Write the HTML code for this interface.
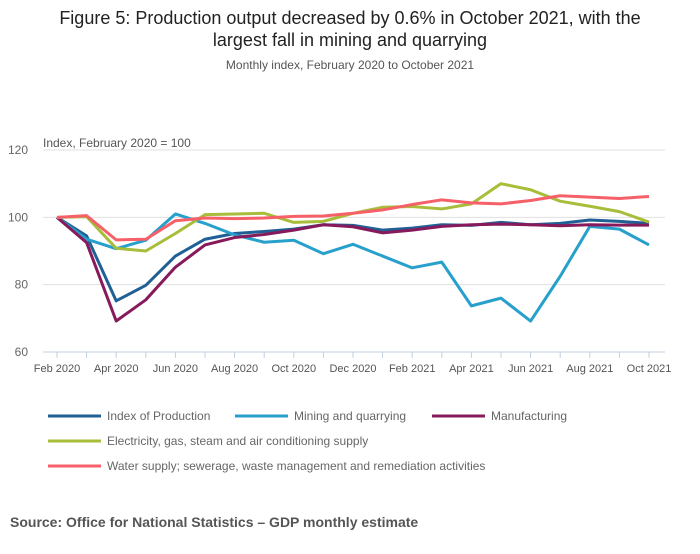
<!DOCTYPE html>
<html><head><meta charset="utf-8"><style>
body{margin:0;background:#fff;font-family:"Liberation Sans",sans-serif;}
svg text{font-family:"Liberation Sans",sans-serif;}
</style></head><body>
<svg width="700" height="549" viewBox="0 0 700 549" xmlns="http://www.w3.org/2000/svg">
<text x="350" y="24" font-size="18" fill="#222" text-anchor="middle">Figure 5: Production output decreased by 0.6% in October 2021, with the</text>
<text x="350" y="46" font-size="18" fill="#222" text-anchor="middle">largest fall in mining and quarrying</text>
<text x="350" y="69" font-size="12" fill="#555" text-anchor="middle">Monthly index, February 2020 to October 2021</text>
<text x="43" y="147" font-size="12" fill="#555">Index, February 2020 = 100</text>
<g id="grid"></g><g id="xaxis"></g><g id="lines"></g>
<g id="legend"></g>
<text x="10" y="527" font-size="14" font-weight="bold" fill="#555">Source: Office for National Statistics – GDP monthly estimate</text>
</svg>
<script>
const months=["Feb 2020","Mar 2020","Apr 2020","May 2020","Jun 2020","Jul 2020","Aug 2020","Sep 2020","Oct 2020","Nov 2020","Dec 2020","Jan 2021","Feb 2021","Mar 2021","Apr 2021","May 2021","Jun 2021","Jul 2021","Aug 2021","Sep 2021","Oct 2021"];
const yTicks=[60,80,100,120];
const iop=[100,94.5,75.2,79.8,88.5,93.5,95.2,95.8,96.5,97.8,97.6,96.2,96.8,97.8,97.6,98.5,97.8,98.2,99.2,98.8,98.2];
const mining=[100,93.5,90.7,93.2,101,98.2,94.8,92.6,93.2,89.2,92,88.5,85,86.7,73.7,76,69.2,82.5,97.3,96.5,91.8];
const manuf=[100,92.5,69.2,75.5,85.2,91.8,94,94.9,96.2,97.8,97.2,95.4,96.2,97.3,97.8,98,97.8,97.5,97.8,97.7,97.7];
const elec=[100,100.2,90.8,90,95.2,100.8,101,101.2,98.5,98.8,101.2,103,103.2,102.5,104,110,108.2,104.8,103.3,101.7,98.6];
const water=[100,100.5,93.3,93.5,99,99.8,99.6,99.8,100.3,100.4,101.2,102.2,103.8,105.2,104.3,104,105,106.4,106,105.6,106.2];
const series=[
 {n:"Index of Production",d:iop,c:"#206095",id:"iop"},
 {n:"Mining and quarrying",d:mining,c:"#27a0cc",id:"mining"},
 {n:"Manufacturing",d:manuf,c:"#871a5b",id:"manufacturing"},
 {n:"Electricity, gas, steam and air conditioning supply",d:elec,c:"#a8bd3a",id:"electricity"},
 {n:"Water supply; sewerage, waste management and remediation activities",d:water,c:"#f66068",id:"water"}];
const NS="http://www.w3.org/2000/svg";
const X0=57,X1=649,Y0=352,Y1=150,YMIN=60,YMAX=120,L=43,R=665;
const x=i=>X0+(X1-X0)*i/(months.length-1);
const y=v=>Y0-(v-YMIN)/(YMAX-YMIN)*(Y0-Y1);
function mk(t,a,p){const e=document.createElementNS(NS,t);for(const k in a)e.setAttribute(k,a[k]);p.appendChild(e);return e;}
const g=document.getElementById('grid'),xa=document.getElementById('xaxis'),ln=document.getElementById('lines'),lg=document.getElementById('legend');
yTicks.forEach(t=>{
 if(t>YMIN){const l=mk('line',{x1:L,x2:R,y1:y(t),y2:y(t),stroke:'#e0e0e0'},g);
 
 }
 const tx=mk('text',{x:28,y:y(t)+4,'font-size':12,fill:'#666','text-anchor':'end'},g);tx.textContent=t;
 
 
});
const ax=mk('line',{x1:L,x2:R,y1:Y0,y2:Y0,stroke:'#c0cfe0'},xa);


months.forEach((m,i)=>{
 const tk=mk('line',{x1:x(i),x2:x(i),y1:Y0,y2:Y0+6,stroke:'#c0cfe0'},xa);
 
 
 if(i%2==0){const t=mk('text',{x:x(i),y:Y0+20,'font-size':11,fill:'#555','text-anchor':'middle'},xa);t.textContent=m;
 
 }
});
series.forEach(s=>{
 const p=mk('polyline',{points:s.d.map((v,i)=>x(i)+','+y(v)).join(' '),fill:'none',stroke:s.c,'stroke-width':3,'stroke-linejoin':'round'},ln);
 
 
});
const pos=[[48,416],[235,416],[432,416],[48,441],[48,466]];
series.forEach((s,i)=>{
 const [lx,ly]=pos[i];
 const gi=mk('g',{},lg);
 
 
 mk('line',{x1:lx,x2:lx+53,y1:ly,y2:ly,stroke:s.c,'stroke-width':3},gi);
 const t=mk('text',{x:lx+59,y:ly+4,'font-size':12,fill:'#666'},gi);t.textContent=s.n;
});
</script>
</body></html>
